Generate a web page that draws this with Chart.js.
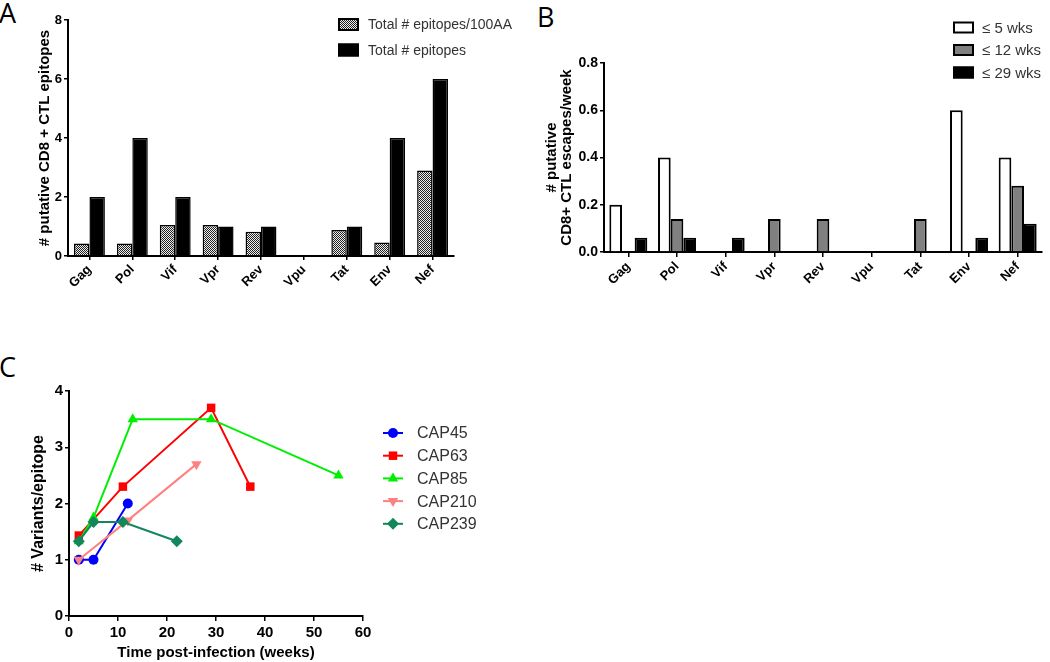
<!DOCTYPE html>
<html>
<head>
<meta charset="utf-8">
<script src="https://cdn.jsdelivr.net/npm/chart.js@4.4.0/dist/chart.umd.min.js"></script>
<style>
    body { margin: 0; background: #fff; width: 1050px; height: 662px; position: relative; overflow: hidden; }
    .panel { position: absolute; }
    .letter { position: absolute; font-family: "Open Sans", sans-serif; font-size: 27px; line-height: 1; color: #000; }
</style>
</head>
<body>
<div class="letter" style="left:-1px;top:-1px">A</div>
<div class="letter" style="left:537px;top:3px">B</div>
<div class="letter" style="left:-1px;top:353px">C</div>
<canvas id="chartA" class="panel" style="left:0;top:0" width="520" height="310"></canvas>
<canvas id="chartB" class="panel" style="left:520px;top:0" width="530" height="310"></canvas>
<canvas id="chartC" class="panel" style="left:0;top:320px" width="520" height="342"></canvas>
<script>
// Panel A / B categories
const genes = ['Gag', 'Pol', 'Vif', 'Vpr', 'Rev', 'Vpu', 'Tat', 'Env', 'Nef'];

// Panel A
const epitopesPer100AA = [0.42, 0.42, 1.05, 1.05, 0.82, 0, 0.88, 0.46, 2.9];
const epitopesTotal = [2, 4, 2, 1, 1, 0, 1, 4, 6];
const yTicksA = [0, 2, 4, 6, 8];

// Panel B
const escapes5wk = [0.2, 0.4, 0, 0, 0, 0, 0, 0.6, 0.4];
const escapes12wk = [0, 0.14, 0, 0.14, 0.14, 0, 0.14, 0, 0.28];
const escapes29wk = [0.06, 0.06, 0.06, 0, 0, 0, 0, 0.06, 0.12];
const yTicksB = [0, 0.2, 0.4, 0.6, 0.8];

// Panel C
const cap45Weeks = [2, 5, 12];
const cap45Variants = [1, 1, 2];
const cap63Weeks = [2, 11, 29, 37];
const cap63Variants = [1.43, 2.3, 3.7, 2.3];
const cap85Weeks = [2, 5, 13, 29, 55];
const cap85Variants = [1.33, 1.75, 3.5, 3.5, 2.5];
const cap210Weeks = [2, 12, 26];
const cap210Variants = [1, 1.7, 2.7];
const cap239Weeks = [2, 5, 11, 22];
const cap239Variants = [1.33, 1.67, 1.67, 1.33];
const xTicksC = [0, 10, 20, 30, 40, 50, 60];
const yTicksC = [0, 1, 2, 3, 4];

const FONT = '"Liberation Sans", Arial, sans-serif';

document.addEventListener('DOMContentLoaded', function() {
    Chart.defaults.font.family = FONT;
    initCharts();
});

// checkered fill like the dotted bars
function makeHatch(ctx) {
    const p = document.createElement('canvas');
    p.width = 2;
    p.height = 2;
    const pc = p.getContext('2d');
    pc.fillStyle = '#eeeeee';
    pc.fillRect(0, 0, 2, 2);
    pc.fillStyle = '#222222';
    pc.fillRect(0, 0, 1, 1);
    pc.fillRect(1, 1, 1, 1);
    return ctx.createPattern(p, 'repeat');
}

function pairs(xs, ys) {
    return xs.map((x, i) => ({ x: x, y: ys[i] }));
}

function tickGrid(len) {
    return {
        display: true,
        drawOnChartArea: false,
        drawTicks: true,
        tickLength: len,
        color: '#000',
        lineWidth: 1.5,
        offset: false
    };
}

function valueAxis(ticks, fmt, title, width, titlePad, tickSize, titleSize) {
    return {
        type: 'linear',
        min: ticks[0],
        max: ticks[ticks.length - 1],
        afterBuildTicks: function(scale) {
            scale.ticks = ticks.map(v => ({ value: v }));
        },
        afterFit: function(scale) {
            scale.width = width;
        },
        border: { color: '#000', width: 2 },
        grid: tickGrid(4),
        ticks: {
            color: '#000',
            padding: 2,
            font: { size: tickSize, weight: 'bold' },
            callback: fmt
        },
        title: {
            display: true,
            text: title,
            color: '#000',
            padding: { top: titlePad, bottom: 0 },
            font: { size: titleSize, weight: 'bold', lineHeight: 1.0 }
        }
    };
}

function geneAxis(height, tickLen) {
    return {
        type: 'category',
        afterFit: function(scale) {
            scale.height = height;
        },
        border: { color: '#000', width: 2 },
        grid: tickGrid(tickLen),
        ticks: {
            color: '#000',
            padding: 2,
            autoSkip: false,
            maxRotation: 45,
            minRotation: 45,
            font: { size: 13, weight: 'bold' }
        }
    };
}

// legend drawn by hand so it can sit where the original has it
const handLegend = {
    id: 'handLegend',
    afterDraw(chart, args, opts) {
        if (!opts || !opts.rows) return;
        const ctx = chart.ctx;
        ctx.save();
        ctx.font = opts.size + 'px ' + FONT;
        ctx.textBaseline = 'middle';
        chart.data.datasets.forEach((ds, i) => {
            const y = opts.top + i * opts.rows;
            if (opts.kind === 'box') {
                ctx.fillStyle = ds.backgroundColor;
                ctx.fillRect(opts.x, y - opts.h / 2, opts.w, opts.h);
                ctx.strokeStyle = '#000';
                ctx.lineWidth = 2;
                ctx.strokeRect(opts.x + 1, y - opts.h / 2 + 1, opts.w - 2, opts.h - 2);
            } else {
                ctx.strokeStyle = ds.borderColor;
                ctx.lineWidth = 2;
                ctx.beginPath();
                ctx.moveTo(opts.x, y);
                ctx.lineTo(opts.x + opts.w, y);
                ctx.stroke();
                ctx.fillStyle = ds.backgroundColor;
                Chart.helpers.drawPoint(ctx, {
                    pointStyle: ds.pointStyle,
                    rotation: ds.pointRotation || 0,
                    radius: ds.pointRadius,
                    borderWidth: 0
                }, opts.x + opts.w / 2, y);
            }
            ctx.fillStyle = '#333';
            ctx.fillText(ds.label, opts.textX, y + 1);
        });
        ctx.restore();
    }
};

function initCharts() {
    // Chart A - epitopes per gene
    const ctxA = document.getElementById('chartA').getContext('2d');
    new Chart(ctxA, {
        type: 'bar',
        data: {
            labels: genes,
            datasets: [{
                label: 'Total # epitopes/100AA',
                data: epitopesPer100AA,
                backgroundColor: makeHatch(ctxA),
                borderColor: '#000',
                borderWidth: 1.5
            }, {
                label: 'Total # epitopes',
                data: epitopesTotal,
                backgroundColor: '#000',
                borderColor: '#000',
                borderWidth: 1.5
            }]
        },
        options: {
            responsive: false,
            animation: false,
            categoryPercentage: 0.72,
            barPercentage: 1.0,
            layout: { padding: { left: 0, right: 66, top: 20, bottom: 0 } },
            plugins: {
                legend: { display: false },
                tooltip: { enabled: false },
                handLegend: { kind: 'box', x: 338, w: 21, h: 13, top: 24.5, rows: 25.5, textX: 368, size: 14 }
            },
            scales: {
                x: geneAxis(54, 4),
                y: valueAxis(yTicksA, v => v, '# putative CD8 + CTL epitopes', 68, 37, 13, 15)
            }
        },
        plugins: [handLegend]
    });

    // Chart B - escapes per week
    const ctxB = document.getElementById('chartB').getContext('2d');
    new Chart(ctxB, {
        type: 'bar',
        data: {
            labels: genes,
            datasets: [{
                label: '\u2264 5 wks',
                data: escapes5wk,
                backgroundColor: '#fff',
                borderColor: '#000',
                borderWidth: 2
            }, {
                label: '\u2264 12 wks',
                data: escapes12wk,
                backgroundColor: '#808080',
                borderColor: '#000',
                borderWidth: 2
            }, {
                label: '\u2264 29 wks',
                data: escapes29wk,
                backgroundColor: '#000',
                borderColor: '#000',
                borderWidth: 2
            }]
        },
        options: {
            responsive: false,
            animation: false,
            categoryPercentage: 0.78,
            barPercentage: 1.0,
            layout: { padding: { left: 0, right: 8, top: 63, bottom: 0 } },
            plugins: {
                legend: { display: false },
                tooltip: { enabled: false },
                handLegend: { kind: 'box', x: 433, w: 21, h: 12, top: 27.5, rows: 22.5, textX: 462, size: 15 }
            },
            scales: {
                x: geneAxis(58, 5),
                y: valueAxis(yTicksB, v => v.toFixed(1), ['# putative', 'CD8+ CTL escapes/week'], 84, 24.5, 14, 15)
            }
        },
        plugins: [handLegend]
    });

    // Chart C - variants over time
    const ctxC = document.getElementById('chartC').getContext('2d');
    const series = [
        { label: 'CAP45', data: pairs(cap45Weeks, cap45Variants), color: '#0000ff', style: 'circle', radius: 5 },
        { label: 'CAP63', data: pairs(cap63Weeks, cap63Variants), color: '#ff0000', style: 'rect', radius: 6 },
        { label: 'CAP85', data: pairs(cap85Weeks, cap85Variants), color: '#00ee00', style: 'triangle', radius: 6 },
        { label: 'CAP210', data: pairs(cap210Weeks, cap210Variants), color: '#ff8080', style: 'triangle', radius: 6, rot: 180 },
        { label: 'CAP239', data: pairs(cap239Weeks, cap239Variants), color: '#12875c', style: 'rectRot', radius: 6 }
    ];

    const xAxisC = valueAxis(xTicksC, v => v, 'Time post-infection (weeks)', 0, 0, 15, 15);
    xAxisC.afterFit = function(scale) { scale.height = 46; };
    xAxisC.grid = tickGrid(5);
    xAxisC.ticks.padding = 3;
    xAxisC.title.padding = { top: 0, bottom: 0 };
    xAxisC.title.font.lineHeight = 1.2;

    new Chart(ctxC, {
        type: 'line',
        data: {
            datasets: series.map((s, i) => ({
                label: s.label,
                data: s.data,
                borderColor: s.color,
                backgroundColor: s.color,
                borderWidth: 2,
                pointStyle: s.style,
                pointRadius: s.radius,
                pointRotation: s.rot || 0,
                pointBorderWidth: 0,
                tension: 0,
                order: series.length - i
            }))
        },
        options: {
            responsive: false,
            animation: false,
            layout: { padding: { left: 0, right: 157, top: 71, bottom: 0 } },
            plugins: {
                legend: { display: false },
                tooltip: { enabled: false },
                handLegend: { kind: 'line', x: 383, w: 20, top: 113, rows: 22.7, textX: 417, size: 16 }
            },
            scales: {
                x: xAxisC,
                y: valueAxis(yTicksC, v => v, '# Variants/epitope', 69, 31, 15, 16)
            }
        },
        plugins: [handLegend]
    });
}
</script>
</body>
</html>
